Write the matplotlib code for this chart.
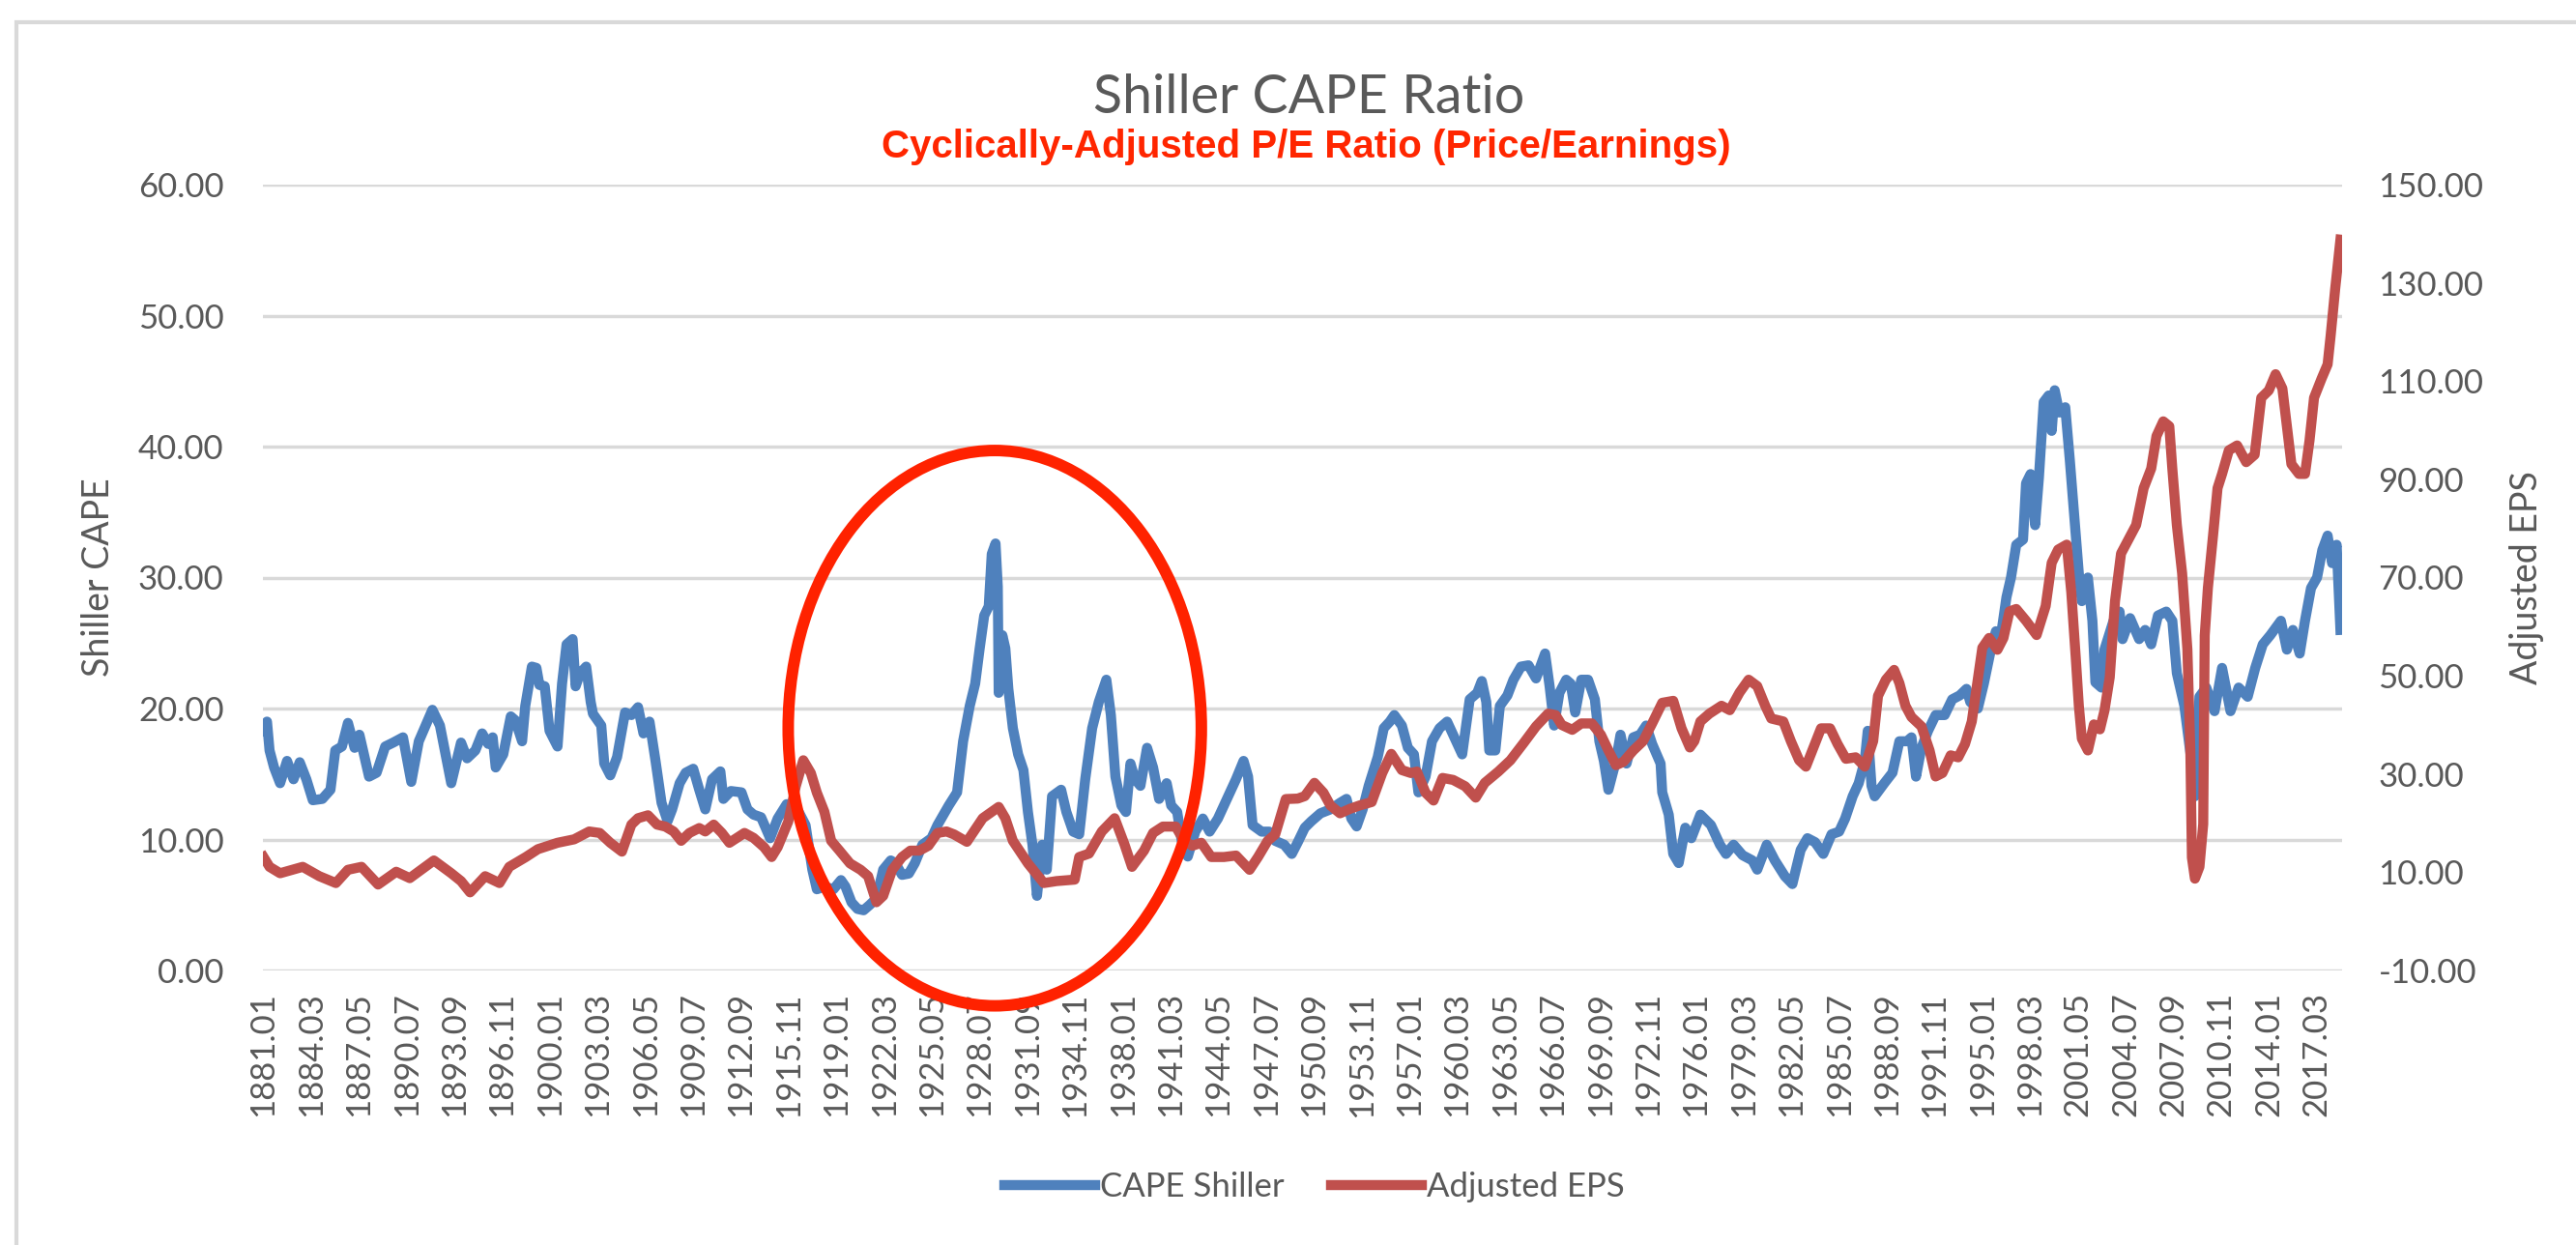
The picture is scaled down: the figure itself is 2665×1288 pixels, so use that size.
import matplotlib
matplotlib.use("Agg")
import matplotlib.pyplot as plt
from matplotlib.patches import Ellipse, Rectangle

# CAPE Shiller readings (decimal year, ratio) taken off the chart
cape_years = [
    1881.0, 1881.23, 1881.4, 1881.7, 1882.1, 1882.56, 1882.99, 1883.4, 1883.84, 1884.27,
    1884.9, 1885.44, 1885.76, 1886.2, 1886.6, 1887.04, 1887.36, 1888.0, 1888.5, 1889.07,
    1889.6, 1890.25, 1890.8, 1891.3, 1892.2, 1892.7, 1893.45, 1894.1, 1894.5, 1895.05,
    1895.5, 1895.9, 1896.2, 1896.4, 1896.9, 1897.4, 1897.7, 1898.15, 1898.36, 1898.8,
    1899.1, 1899.3, 1899.65, 1899.97, 1900.5, 1900.8, 1901.1, 1901.5, 1901.7, 1902.0,
    1902.4, 1902.7, 1902.85, 1903.4, 1903.6, 1904.0, 1904.45, 1904.98, 1905.4, 1905.84,
    1906.2, 1906.6, 1907.0, 1907.4, 1907.8, 1908.1, 1908.6, 1909.0, 1909.5, 1909.9,
    1910.3, 1910.75, 1911.3, 1911.5, 1912.0, 1912.7, 1913.1, 1913.5, 1914.0, 1914.6,
    1915.1, 1915.7, 1916.1, 1916.5, 1916.95, 1917.4, 1917.7, 1918.2, 1918.8, 1919.3,
    1919.6, 1920.0, 1920.4, 1920.8, 1921.2, 1921.65, 1922.1, 1922.6, 1922.9, 1923.35,
    1923.8, 1924.2, 1924.7, 1925.3, 1925.7, 1926.1, 1926.45, 1927.0, 1927.4, 1927.84,
    1928.2, 1928.5, 1928.8, 1929.1, 1929.3, 1929.55, 1929.7, 1929.76, 1930.0, 1930.2,
    1930.4, 1930.7, 1931.05, 1931.4, 1931.7, 1932.0, 1932.3, 1932.65, 1932.95, 1933.3,
    1933.9, 1934.25, 1934.7, 1935.1, 1935.5, 1935.96, 1936.4, 1936.9, 1937.2, 1937.5,
    1937.9, 1938.2, 1938.5, 1938.8, 1939.16, 1939.6, 1940.0, 1940.4, 1940.9, 1941.2,
    1941.6, 1941.9, 1942.3, 1942.8, 1943.3, 1943.75, 1944.3, 1944.9, 1945.5, 1946.0,
    1946.3, 1946.6, 1947.2, 1947.7, 1948.1, 1948.7, 1949.2, 1949.6, 1950.06, 1950.5,
    1951.1, 1951.76, 1952.4, 1952.83, 1953.15, 1953.5, 1953.9, 1954.3, 1954.9, 1955.3,
    1955.7, 1956.0, 1956.5, 1956.9, 1957.3, 1957.6, 1958.07, 1958.5, 1959.0, 1959.5,
    1959.9, 1960.5, 1961.0, 1961.5, 1961.8, 1962.1, 1962.3, 1962.7, 1963.0, 1963.5,
    1963.9, 1964.4, 1964.9, 1965.4, 1966.0, 1966.3, 1966.6, 1966.95, 1967.4, 1967.7,
    1968.0, 1968.4, 1968.85, 1969.3, 1969.6, 1969.9, 1970.2, 1970.7, 1971.0, 1971.4,
    1971.85, 1972.3, 1972.7, 1973.1, 1973.66, 1973.77, 1974.2, 1974.5, 1974.86, 1975.3,
    1975.7, 1976.3, 1977.0, 1977.6, 1978.0, 1978.5, 1979.1, 1979.75, 1980.07, 1980.7,
    1981.24, 1981.9, 1982.4, 1982.95, 1983.4, 1983.9, 1984.45, 1985.0, 1985.5, 1985.9,
    1986.4, 1986.8, 1987.2, 1987.4, 1987.65, 1987.86, 1988.5, 1989.04, 1989.5, 1990.0,
    1990.3, 1990.6, 1990.96, 1991.4, 1991.9, 1992.5, 1993.0, 1993.5, 1993.95, 1994.2,
    1994.7, 1995.1, 1995.55, 1995.9, 1996.2, 1996.6, 1996.9, 1997.25, 1997.7, 1997.9,
    1998.2, 1998.5, 1998.75, 1999.07, 1999.4, 1999.6, 1999.8, 2000.1, 2000.5, 2000.8,
    2001.1, 2001.4, 2001.6, 2002.0, 2002.3, 2002.5, 2002.9, 2003.1, 2003.7, 2004.1,
    2004.3, 2004.8, 2005.4, 2005.8, 2006.2, 2006.65, 2007.2, 2007.6, 2007.9, 2008.4,
    2008.8, 2009.1, 2009.4, 2009.85, 2010.4, 2010.9, 2011.46, 2012.0, 2012.6, 2013.1,
    2013.6, 2014.1, 2014.8, 2015.2, 2015.6, 2016.05, 2016.4, 2016.8, 2017.2, 2017.55,
    2017.9, 2018.2, 2018.5, 2018.75,
]
cape_values = [
    18.3, 19.0, 16.8, 15.5, 14.3, 16.0, 14.6, 15.9, 14.6, 13.0,
    13.1, 13.8, 16.8, 17.1, 18.9, 17.0, 18.0, 14.8, 15.1, 17.1,
    17.4, 17.8, 14.4, 17.5, 19.9, 18.7, 14.3, 17.4, 16.2, 16.8,
    18.1, 17.3, 17.8, 15.5, 16.5, 19.4, 19.1, 17.5, 20.2, 23.2,
    23.1, 21.8, 21.7, 18.3, 17.1, 21.9, 24.9, 25.3, 21.7, 22.7,
    23.2, 20.5, 19.6, 18.7, 15.8, 14.9, 16.3, 19.7, 19.5, 20.1,
    18.1, 19.0, 16.0, 12.8, 11.4, 12.3, 14.3, 15.1, 15.4, 13.8,
    12.3, 14.6, 15.2, 13.1, 13.7, 13.6, 12.3, 11.9, 11.7, 10.1,
    11.6, 12.7, 12.6, 12.1, 11.1, 7.7, 6.2, 6.4, 6.2, 6.9,
    6.4, 5.2, 4.7, 4.6, 5.0, 5.5, 7.7, 8.4, 8.2, 7.3,
    7.4, 8.2, 9.6, 10.1, 11.1, 11.9, 12.6, 13.6, 17.5, 20.2,
    21.9, 24.6, 27.1, 27.8, 31.8, 32.6, 29.3, 21.2, 25.6, 24.6,
    21.5, 18.5, 16.5, 15.3, 12.1, 9.6, 5.7, 9.6, 7.7, 13.3,
    13.8, 12.1, 10.6, 10.4, 14.6, 18.5, 20.5, 22.2, 19.5, 14.8,
    12.6, 12.1, 15.8, 14.6, 14.1, 17.0, 15.5, 13.1, 14.3, 12.6,
    12.1, 9.9, 8.7, 10.6, 11.6, 10.6, 11.6, 13.1, 14.6, 16.0,
    14.8, 11.1, 10.6, 10.6, 9.9, 9.6, 8.9, 9.8, 10.9, 11.4,
    12.0, 12.3, 12.8, 13.1, 11.6, 11.0, 12.3, 14.1, 16.3, 18.5,
    19.0, 19.5, 18.7, 17.0, 16.5, 13.6, 14.8, 17.5, 18.5, 19.0,
    18.0, 16.5, 20.7, 21.2, 22.1, 20.5, 16.8, 16.8, 20.2, 21.0,
    22.2, 23.2, 23.3, 22.3, 24.2, 21.7, 18.7, 21.2, 22.2, 21.9,
    19.7, 22.2, 22.2, 20.7, 17.5, 16.0, 13.8, 16.0, 18.0, 15.8,
    17.8, 18.0, 18.7, 17.3, 15.8, 13.6, 11.9, 8.9, 8.2, 10.9,
    10.1, 11.9, 11.1, 9.6, 8.9, 9.6, 8.8, 8.4, 7.7, 9.6,
    8.4, 7.2, 6.6, 9.2, 10.1, 9.8, 8.9, 10.4, 10.6, 11.6,
    13.3, 14.3, 16.0, 18.3, 14.1, 13.3, 14.3, 15.1, 17.5, 17.5,
    17.8, 14.8, 17.0, 18.3, 19.5, 19.5, 20.7, 21.0, 21.5, 20.5,
    20.0, 21.9, 24.4, 25.9, 25.3, 28.5, 30.0, 32.5, 32.9, 37.2,
    37.9, 34.0, 37.6, 43.4, 43.9, 41.2, 44.3, 42.6, 43.0, 39.0,
    34.7, 30.3, 28.2, 30.0, 26.7, 22.0, 21.6, 24.5, 26.7, 27.4,
    25.3, 26.9, 25.3, 26.0, 24.9, 27.1, 27.4, 26.7, 22.7, 20.2,
    16.6, 13.3, 20.9, 21.6, 19.8, 23.1, 19.8, 21.6, 20.9, 23.1,
    24.9, 25.6, 26.7, 24.5, 26.0, 24.2, 26.7, 29.2, 30.0, 32.1,
    33.2, 31.1, 32.5, 26.0,
]

# Adjusted EPS readings (decimal year, dollars) taken off the chart
eps_years = [
    1881.0, 1881.4, 1882.1, 1883.6, 1884.7, 1885.8, 1886.6, 1887.5, 1888.6, 1889.8,
    1890.7, 1892.3, 1893.45, 1894.1, 1894.7, 1895.7, 1896.65, 1897.3, 1898.4, 1899.2,
    1900.5, 1901.6, 1902.6, 1903.3, 1904.0, 1904.77, 1905.4, 1905.84, 1906.5, 1907.1,
    1907.65, 1908.2, 1908.7, 1909.25, 1909.9, 1910.3, 1910.86, 1911.4, 1911.9, 1912.9,
    1913.5, 1914.2, 1914.7, 1915.1, 1915.8, 1916.3, 1916.8, 1917.3, 1917.7, 1918.2,
    1918.65, 1919.2, 1919.9, 1920.6, 1921.1, 1921.65, 1922.1, 1922.7, 1923.35, 1923.9,
    1924.5, 1925.1, 1925.7, 1926.3, 1926.8, 1927.65, 1928.7, 1929.76, 1930.2, 1930.7,
    1931.7, 1932.75, 1933.6, 1934.8, 1935.1, 1935.75, 1936.6, 1937.45, 1938.1, 1938.6,
    1939.4, 1940.0, 1940.65, 1941.5, 1942.05, 1942.6, 1943.2, 1943.86, 1944.7, 1945.5,
    1946.0, 1946.4, 1946.96, 1947.6, 1948.1, 1948.8, 1949.6, 1950.06, 1950.7, 1951.3,
    1951.76, 1952.4, 1953.05, 1953.7, 1954.5, 1955.2, 1955.8, 1956.5, 1957.1, 1957.5,
    1958.07, 1958.6, 1959.2, 1959.9, 1960.7, 1961.4, 1962.0, 1962.9, 1963.7, 1964.6,
    1965.4, 1966.2, 1966.7, 1967.1, 1967.8, 1968.4, 1969.1, 1969.7, 1970.2, 1970.7,
    1971.2, 1971.85, 1972.5, 1973.1, 1973.77, 1974.5, 1975.05, 1975.6, 1975.9, 1976.3,
    1976.9, 1977.7, 1978.25, 1978.9, 1979.5, 1980.07, 1980.6, 1981.0, 1981.8, 1982.3,
    1982.85, 1983.3, 1983.8, 1984.3, 1984.9, 1985.4, 1985.95, 1986.6, 1987.2, 1987.76,
    1988.08, 1988.6, 1989.15, 1989.5, 1989.9, 1990.3, 1990.96, 1991.5, 1991.9, 1992.35,
    1992.9, 1993.4, 1993.85, 1994.3, 1994.7, 1995.0, 1995.45, 1996.0, 1996.4, 1996.8,
    1997.25, 1997.9, 1998.6, 1999.2, 1999.6, 2000.03, 2000.6, 2000.9, 2001.2, 2001.4,
    2001.6, 2002.0, 2002.4, 2002.8, 2003.1, 2003.45, 2003.8, 2004.2, 2004.7, 2005.2,
    2005.7, 2006.2, 2006.55, 2007.0, 2007.4, 2007.6, 2007.9, 2008.25, 2008.6, 2008.8,
    2008.9, 2009.1, 2009.4, 2009.65, 2009.75, 2009.96, 2010.3, 2010.6, 2010.9, 2011.35,
    2011.9, 2012.5, 2013.06, 2013.5, 2014.0, 2014.45, 2014.9, 2015.2, 2015.5, 2016.0,
    2016.4, 2016.7, 2017.0, 2017.5, 2017.9, 2018.1, 2018.4, 2018.75,
]
eps_values = [
    13.1, 11.1, 9.8, 11.1, 9.2, 7.8, 10.5, 11.1, 7.5, 10.1,
    8.8, 12.4, 9.8, 8.2, 5.9, 9.2, 7.8, 11.1, 13.1, 14.7,
    16.0, 16.7, 18.3, 18.0, 16.0, 14.2, 19.7, 21.0, 21.6, 19.7,
    19.3, 18.3, 16.4, 18.0, 19.0, 18.3, 19.7, 18.0, 16.0, 18.0,
    17.0, 15.1, 13.1, 15.1, 20.3, 27.5, 32.8, 30.2, 26.2, 22.3,
    16.4, 14.4, 11.8, 10.5, 9.2, 3.9, 5.2, 10.5, 13.1, 14.4,
    14.4, 15.4, 18.0, 18.3, 17.7, 16.2, 21.0, 23.3, 21.0, 16.4,
    11.8, 7.8, 8.2, 8.5, 13.1, 13.8, 18.3, 21.0, 15.7, 11.1,
    14.4, 18.0, 19.3, 19.3, 16.4, 15.4, 16.0, 13.1, 13.1, 13.4,
    11.8, 10.5, 13.1, 16.4, 17.7, 24.9, 25.0, 25.5, 28.2, 26.2,
    23.6, 22.0, 22.9, 23.6, 24.3, 30.2, 34.1, 30.8, 30.2, 30.5,
    26.2, 24.6, 29.2, 28.8, 27.5, 25.2, 28.2, 30.5, 32.8, 36.4,
    39.7, 42.3, 42.0, 40.0, 39.0, 40.3, 40.3, 38.0, 34.8, 31.8,
    32.5, 34.8, 36.7, 40.3, 44.5, 44.9, 39.3, 35.4, 36.7, 40.7,
    42.3, 43.9, 43.0, 46.6, 49.2, 47.9, 43.9, 41.3, 40.7, 36.7,
    32.8, 31.5, 35.4, 39.3, 39.3, 36.1, 33.1, 33.4, 31.5, 36.7,
    45.9, 49.2, 51.2, 48.5, 43.9, 41.6, 39.7, 34.8, 29.5, 30.2,
    33.8, 33.4, 36.1, 40.7, 49.2, 55.7, 57.7, 55.3, 57.7, 63.1,
    63.6, 61.2, 58.3, 64.2, 73.0, 75.7, 76.7, 67.0, 53.5, 43.9,
    37.2, 34.8, 40.1, 39.1, 42.9, 49.7, 65.2, 74.9, 77.8, 80.7,
    88.2, 92.2, 98.8, 101.8, 100.8, 92.2, 80.7, 70.9, 55.4, 34.2,
    13.0, 8.7, 11.1, 19.8, 58.2, 67.9, 78.5, 88.2, 91.1, 95.9,
    96.9, 93.5, 95.0, 106.6, 108.1, 111.4, 108.5, 100.8, 93.1, 91.1,
    91.1, 97.9, 106.6, 110.5, 113.4, 119.2, 128.7, 138.8,
]

tick_labels = [
    "1881.01", "1884.03", "1887.05", "1890.07", "1893.09", "1896.11", "1900.01",
    "1903.03", "1906.05", "1909.07", "1912.09", "1915.11", "1919.01", "1922.03",
    "1925.05", "1928.07", "1931.09", "1934.11", "1938.01", "1941.03", "1944.05",
    "1947.07", "1950.09", "1953.11", "1957.01", "1960.03", "1963.05", "1966.07",
    "1969.09", "1972.11", "1976.01", "1979.03", "1982.05", "1985.07", "1988.09",
    "1991.11", "1995.01", "1998.03", "2001.05", "2004.07", "2007.09", "2010.11",
    "2014.01", "2017.03",
]
tick_pos = [int(s[:4]) + (int(s[5:]) - 1) / 12 for s in tick_labels]

cape_ticks = [0, 10, 20, 30, 40, 50, 60]
eps_ticks = [-10, 10, 30, 50, 70, 90, 110, 130, 150]

W, H = 2665, 1288
grey = "#595959"
font = ["Lato", "DejaVu Sans"]

fig = plt.figure(figsize=(W / 100, H / 100), dpi=100)
fig.patch.set_facecolor("white")
ax = fig.add_axes([272 / W, 1 - 1004 / H, (2423 - 272) / W, (1004 - 191) / H])
ax2 = ax.twinx()

l1, = ax.plot(cape_years, cape_values, color="#4F81BD", lw=7.5,
              solid_joinstyle="round", label="CAPE Shiller")
l2, = ax2.plot(eps_years, eps_values, color="#C0504D", lw=7.5,
               solid_joinstyle="round", label="Adjusted EPS")

ax.set_xlim(1880.96, 2018.86)
ax.set_ylim(0, 60)
ax2.set_ylim(-10, 150)
ax.set_yticks(cape_ticks)
ax.set_yticklabels([f"{v:.2f}" for v in cape_ticks])
ax2.set_yticks(eps_ticks)
ax2.set_yticklabels([f"{v:.2f}" for v in eps_ticks])
ax.set_xticks(tick_pos)
ax.set_xticklabels(tick_labels, rotation=90)

ax.yaxis.grid(True, color="#D9D9D9", lw=2.5)
ax.set_axisbelow(True)
for a in (ax, ax2):
    for s in a.spines.values():
        s.set_visible(False)
ax.tick_params(axis="both", length=0, labelsize=25, labelcolor=grey)
ax.tick_params(axis="y", pad=29)
ax.tick_params(axis="x", pad=16)
ax2.tick_params(axis="y", length=0, labelsize=25, labelcolor=grey, pad=27)
for lab in ax.get_xticklabels() + ax.get_yticklabels() + ax2.get_yticklabels():
    lab.set_family(font)

ax.set_ylabel("Shiller CAPE", fontsize=27, color=grey, family=font)
ax.yaxis.set_label_coords((120 - 272) / 2151, 0.5)
ax2.set_ylabel("Adjusted EPS", fontsize=27, color=grey, family=font)
ax2.yaxis.set_label_coords((2596 - 272) / 2151, 0.5)

# red circle drawn around the 1929 bubble
ring = Ellipse((1929.5, 18.5), 27.4, 42.4, transform=ax.transData, fill=False,
               edgecolor="#FF2200", lw=8.6, zorder=10, clip_on=False)
ax2.add_patch(ring)

fig.text(1354 / W, 1 - 117 / H, "Shiller CAPE Ratio", ha="center", va="baseline",
         fontsize=40, color=grey, family=font)
fig.text(1351 / W, 1 - 163 / H, "Cyclically-Adjusted P/E Ratio (Price/Earnings)",
         ha="center", va="baseline", fontsize=29, fontweight="bold",
         color="#FF2600", family=["Liberation Sans", "DejaVu Sans"])

fig.legend(handles=[l1, l2], loc="center", bbox_to_anchor=(1360 / W, 1 - 1228 / H),
           ncol=2, frameon=False, handlelength=2.7, handletextpad=0.15,
           columnspacing=1.4, prop={"family": font, "size": 25}, labelcolor=grey)

# chart border (cut off at the right and bottom in the original)
fig.add_artist(Rectangle((17 / W, -0.05), 1.2, 1 - 23 / H + 0.05,
                         transform=fig.transFigure, fill=False,
                         edgecolor="#D9D9D9", lw=3))

fig.savefig("out.png", dpi=100)
